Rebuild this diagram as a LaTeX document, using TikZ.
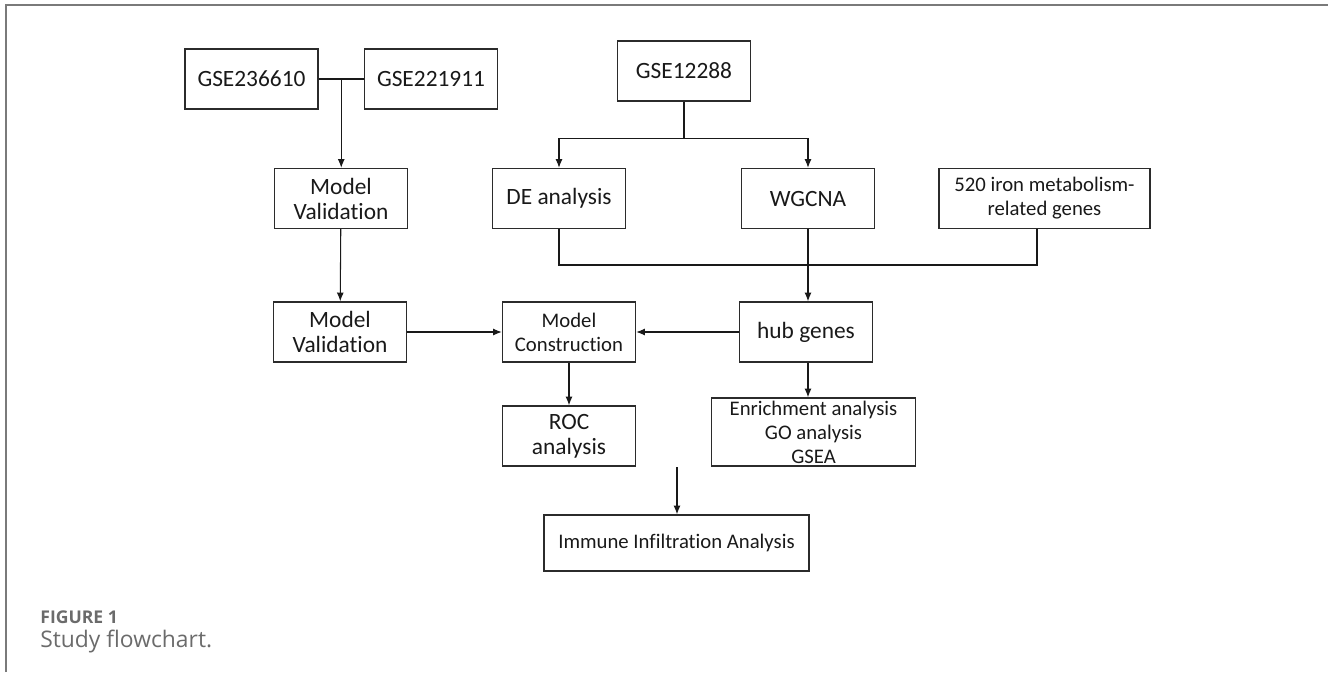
\documentclass[tikz,border=0pt]{standalone}
\usepackage{fontspec}
\setmainfont{Carlito}[Ligatures=NoCommon]
\newfontfamily\capfont{Open Sans}[Ligatures=NoCommon]
\usetikzlibrary{arrows.meta,calc}
\definecolor{framegray}{HTML}{7A7A7A}
\definecolor{capgray}{HTML}{6B6B6B}
\definecolor{boxline}{HTML}{2B2B2B}
\begin{document}
\begin{tikzpicture}
		% Define the styles for the boxes and arrows
		\tikzstyle{blk}
		=[rectangle, draw=boxline, line width=0.8pt, inner sep=0pt, minimum width=2.66cm,
		minimum height=1.2cm, align=center, text=black!90, font=\fontsize{13.3}{14.2}\selectfont]
		\tikzstyle{small}=[font=\fontsize{11.8}{13.6}\selectfont]
		\tikzstyle{arr}=[-{Latex[length=5pt,width=4pt]}, line width=0.6pt, black!90]
		\tikzstyle{con}=[line width=0.6pt, black!90]
		
		% Page size and frame
		\useasboundingbox (0, 0) rectangle (26.56, -13.44);
		\draw[framegray, line width=1.1pt] (0.12, -13.44) -- (0.12, -0.1) -- (26.56, -0.1);
		
		% Data sets
		\node[blk] (ga) at (5.03, -1.58) {GSE236610}; \node[blk] (gb) at (8.62, -1.58)
		{GSE221911}; \node[blk] (gc) at (13.68, -1.42) {GSE12288};
		
		% Analysis boxes
		\node[blk] (va) at (6.82, -3.97) {Model\\Validation}; \node[blk] (de) at (11.18, -3.97)
		{DE analysis}; \node[blk] (wg) at (16.16, -3.97) {WGCNA};
		\node[blk, small, minimum width=4.22cm] (fe) at (20.89, -3.97) {520 iron metabolism-\\related genes};
		\node[blk] (vb) at (6.80, -6.64) {Model\\Validation}; \node[blk, small] (mc) at (11.38, -6.64)
		{Model\\Construction}; \node[blk] (hub) at (16.12, -6.64) {hub genes};
		\node[blk] (roc) at (11.38, -8.72) {ROC\\analysis};
		\node[blk, small, minimum width=4.08cm, minimum height=1.36cm] (enr) at (16.27, -8.64)
		{Enrichment analysis\\GO analysis\\GSEA};
		\node[blk, small, minimum width=5.3cm, minimum height=1.12cm] (imm) at (13.53, -10.86)
		{Immune Infiltration Analysis};
		
		% Junction points
		\coordinate (j) at ($(ga.east)!0.5!(gb.west)$); \coordinate (m) at (16.16, -5.30);
		\coordinate (q) at (13.54, -9.34);
		
		% Connectors
		\draw[con] (ga) -- (gb); \draw[arr] (j) -- (j |- va.north); \draw[arr] (va) -- (vb);
		\draw[arr] (gc.south) -- ++(0, -0.74) -| (de.north); \draw[arr] (gc.south) -- ++(0, -0.74)
		-| (wg.north); \draw[con] (de.south) |- (m); \draw[con] ([xshift=-0.15cm]fe.south) |- (m);
		\draw[arr] (wg.south) -- (wg.south |- hub.north); \draw[arr] (vb) -- (mc); \draw[arr] (hub) -- (mc);
		\draw[arr] (mc) -- (roc); \draw[arr] (wg.south |- hub.south) -- (wg.south |- enr.north);
		\draw[arr] (q) -- (q |- imm.north);
		
		% Caption
		\node[anchor=west, inner sep=0pt, text=capgray, font=\capfont\bfseries\fontsize{10}{12}\selectfont]
		(fig) at (0.8, -12.34) {FIGURE 1};
		\node[anchor=west, inner sep=0pt, text=capgray, font=\capfont\fontsize{13}{15}\selectfont]
		(cap) at (0.8, -12.82) {Study flowchart.};
	\end{tikzpicture}
\end{document}
